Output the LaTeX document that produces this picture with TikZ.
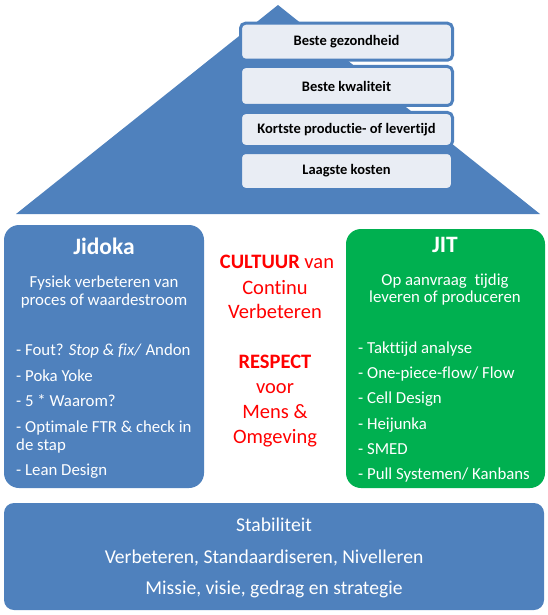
\documentclass[tikz,border=0pt]{standalone}
\usepackage{fontspec}
\setmainfont{Carlito}[Ligatures=NoCommon]

\definecolor{houseblue}{HTML}{4F81BD}
\definecolor{jitgreen}{HTML}{00B050}
\definecolor{goalfill}{HTML}{E9EDF4}
\definecolor{cultred}{HTML}{FF0000}

\tikzset{
  goalbox/.style={draw=houseblue, line width=3pt, fill=goalfill, rounded corners=5pt,
    minimum width=212pt, inner sep=0pt, font=\fontsize{14.5}{16}\selectfont\bfseries},
  pillartitle/.style={anchor=base, inner sep=0pt, text=white, font=\fontsize{23.5}{26}\selectfont\bfseries},
  pillarsub/.style={anchor=base, inner sep=0pt, text=white, font=\fontsize{16.8}{18}\selectfont},
  bullet/.style={anchor=base west, inner sep=0pt, text=white, font=\fontsize{16.8}{18}\selectfont},
  culture/.style={anchor=base, inner sep=0pt, text=cultred, font=\fontsize{20.5}{24}\selectfont},
  basetext/.style={anchor=base, inner sep=0pt, text=white, font=\fontsize{19.6}{24}\selectfont}
}

\begin{document}
\begin{tikzpicture}[x=1pt, y=-1pt]

    % Canvas
    \useasboundingbox (0,0) rectangle (548,615);

    % Roof
    \fill[houseblue] (16,214) -- (278,5) -- (540,214) -- cycle;

    % Goals in the roof
    \node[goalbox, minimum height=37pt] (gezond) at (346.5,41.7) {Beste gezondheid};
    \node[goalbox, minimum height=39pt] (kwaliteit) at (346.5,86) {Beste kwaliteit};
    \node[goalbox, minimum height=34pt] (levertijd) at (346.5,129.5) {Kortste productie- of levertijd};
    \node[goalbox, minimum height=37pt] (kosten) at (346.5,171) {Laagste kosten};

    % Left pillar: Jidoka
    \fill[houseblue, rounded corners=15pt] (4,225) rectangle (204,488);
    \node[pillartitle] (jidoka) at (104,254) {Jidoka};
    \node[pillarsub] (jidsub1) at (104,287) {Fysiek verbeteren van};
    \node[pillarsub] (jidsub2) at (104,305) {proces of waardestroom};
    \node[bullet] (fout) at (16,355) {- Fout? \textit{Stop \& fix/} Andon};
    \node[bullet] (poka) at (16,381) {- Poka Yoke};
    \node[bullet] (waarom) at (16,406) {- 5 * Waarom?};
    \node[bullet] (ftr) at (16,432) {- Optimale FTR \& check in};
    \node[bullet] (stap) at (16,450) {de stap};
    \node[bullet] (leandes) at (16,475) {- Lean Design};

    % Right pillar: JIT
    \fill[jitgreen, rounded corners=15pt] (346,229) rectangle (545,488);
    \node[pillartitle] (jit) at (445,252) {JIT};
    \node[pillarsub] (jitsub1) at (445,285) {Op aanvraag\ \ tijdig};
    \node[pillarsub] (jitsub2) at (445,302) {leveren of produceren};
    \node[bullet] (takt) at (358,353) {- Takttijd analyse};
    \node[bullet] (flow) at (358,378) {- One-piece-flow/ Flow};
    \node[bullet] (cell) at (358,403) {- Cell Design};
    \node[bullet] (heijunka) at (358,429) {- Heijunka};
    \node[bullet] (smed) at (358,454) {- SMED};
    \node[bullet] (pull) at (358,479) {- Pull Systemen/ Kanbans};

    % Middle: culture and respect
    \node[culture] (cultuur) at (277,268) {\textbf{CULTUUR} van};
    \node[culture] (continu) at (275,294) {Continu};
    \node[culture] (verbet) at (275,318) {Verbeteren};
    \node[culture] (respect) at (275,368) {\textbf{RESPECT}};
    \node[culture] (voor) at (275,393) {voor};
    \node[culture] (mens) at (275,418) {Mens \&};
    \node[culture] (omgeving) at (275,443) {Omgeving};

    % Foundation
    \fill[houseblue, rounded corners=10pt] (4,503) rectangle (544,610);
    \node[basetext] (stabiel) at (274,531) {Stabiliteit};
    \node[basetext] (standaard) at (264,563) {Verbeteren,\ Standaardiseren, Nivelleren};
    \node[basetext] (missie) at (274,594) {Missie, visie, gedrag en strategie};

\end{tikzpicture}
\end{document}
